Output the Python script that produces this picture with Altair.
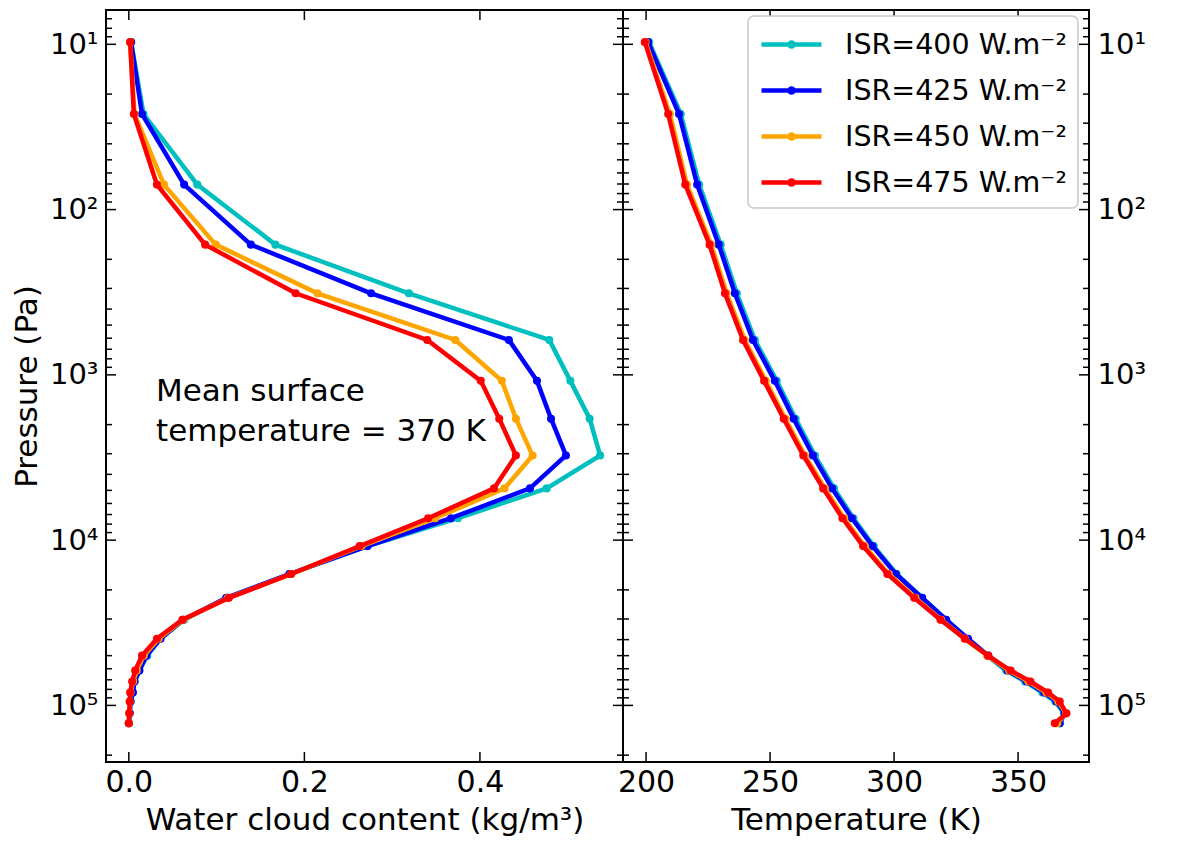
import altair as alt
import pandas as pd

# pressure levels (Pa), shared by every run
pressure = [9.7, 26.4, 70.6, 163, 321, 615, 1087, 1841, 3076, 4864, 7370, 10870,
            16030, 22350, 30330, 39500, 50000, 61500, 71700, 83600, 94600, 111700, 128200]

series = ["ISR=400 W.m⁻²", "ISR=425 W.m⁻²", "ISR=450 W.m⁻²", "ISR=475 W.m⁻²"]
colors = ["#00BFBF", "#0000FF", "#FFA500", "#FF0000"]

# water cloud content (kg/m3)
cloud_400 = [0.0026, 0.0167, 0.078, 0.167, 0.319, 0.479, 0.503, 0.525, 0.537, 0.476, 0.375, 0.272,
             0.183, 0.112, 0.063, 0.036, 0.021, 0.012, 0.0065, 0.0046, 0.002, 0.001, 0.0]
cloud_425 = [0.0026, 0.015, 0.063, 0.139, 0.276, 0.433, 0.465, 0.481, 0.498, 0.457, 0.367, 0.272,
             0.183, 0.111, 0.062, 0.036, 0.020, 0.012, 0.0065, 0.0046, 0.002, 0.001, 0.0]
cloud_450 = [0.0015, 0.0065, 0.040, 0.099, 0.215, 0.372, 0.425, 0.441, 0.460, 0.428, 0.349, 0.265,
             0.185, 0.113, 0.062, 0.034, 0.017, 0.009, 0.005, 0.002, 0.001, 0.0005, 0.0]
cloud_475 = [0.0015, 0.0057, 0.032, 0.087, 0.190, 0.340, 0.401, 0.422, 0.441, 0.416, 0.341, 0.263,
             0.185, 0.114, 0.061, 0.032, 0.015, 0.0072, 0.0038, 0.0015, 0.001, 0.0005, 0.0]

# temperature (K)
temp_400 = [201.2, 214.0, 221.4, 230.1, 236.6, 243.9, 252.7, 260.3, 268.1, 275.8, 283.6, 291.8,
            301.0, 311.4, 321.0, 329.6, 337.6, 345.2, 352.8, 359.8, 365.0, 368.5, 366.8]
temp_425 = [200.8, 213.3, 220.6, 229.3, 235.8, 243.1, 251.9, 259.5, 267.3, 275.0, 283.0, 291.3,
            300.7, 311.3, 321.0, 329.8, 338.0, 345.8, 353.5, 360.5, 365.5, 368.8, 366.8]
temp_450 = [199.8, 209.6, 216.5, 226.3, 232.5, 239.8, 248.3, 256.2, 264.1, 272.1, 279.9, 288.2,
            297.9, 308.6, 319.0, 328.6, 337.6, 346.4, 354.2, 361.4, 366.2, 369.3, 365.8]
temp_475 = [199.5, 208.9, 215.8, 225.6, 231.8, 239.1, 247.6, 255.5, 263.4, 271.4, 279.2, 287.5,
            297.3, 308.1, 318.7, 328.5, 337.9, 347.0, 355.0, 362.1, 366.8, 369.5, 364.8]

clouds = [cloud_400, cloud_425, cloud_450, cloud_475]
temps = [temp_400, temp_425, temp_450, temp_475]

# axis tick positions
y_major = [10, 100, 1000, 10000, 100000]
y_minor = [k * 10 ** n for n in range(0, 6) for k in range(2, 10) if 6.2 <= k * 10 ** n <= 2.2e5]
x_major_cloud = [0.0, 0.2, 0.4]
x_major_temp = [200, 250, 300, 350]

FONT = "DejaVu Sans"
FS_LABEL = 30
FS_TITLE = 31
H = 752
W_LEFT = 517
W_RIGHT = 466
MAJ, MIN = 10, 6

rows = []
for name, cl, tp in zip(series, clouds, temps):
    for i, (p, c, t) in enumerate(zip(pressure, cl, tp)):
        rows.append({"series": name, "level": i, "pressure": p, "cloud": c, "temp": t})
df = pd.DataFrame(rows)

# legend sample: a line with a dot in its middle
sym_path = "M-1,0H3M1.14,0A0.14,0.14,0,1,1,0.86,0A0.14,0.14,0,1,1,1.14,0Z"
color_enc = alt.Color(
    "series:N",
    scale=alt.Scale(domain=series, range=colors),
    legend=alt.Legend(
        title=None, orient="none", legendX=642, legendY=6,
        labelFontSize=28.5, labelFont=FONT, labelColor="black", labelLimit=400,
        symbolType=sym_path, symbolSize=900, symbolStrokeWidth=4.5,
        labelOffset=51, rowPadding=14, padding=11,
        fillColor="white", strokeColor="#c8c8c8", cornerRadius=6,
    ),
)

yscale = alt.Scale(type="log", domain=[6.2, 2.2e5], reverse=True, nice=False)
label_expr = ("datum.value == 10 ? '10¹' : datum.value == 100 ? '10²' : "
              "datum.value == 1000 ? '10³' : datum.value == 10000 ? '10⁴' : '10⁵'")


def y_enc(orient, title):
    axis = alt.Axis(
        orient=orient, values=y_major, labelExpr=label_expr, ticks=False, domain=False,
        grid=False, labelFontSize=29, labelFont=FONT, labelColor="black", labelPadding=8,
        title=title, titleFontSize=FS_TITLE, titleFont=FONT, titleFontWeight="normal",
        titleColor="black", titlePadding=6,
    )
    return alt.Y("pressure:Q", scale=yscale, axis=axis)


def x_enc(field, domain, values, fmt, title):
    axis = alt.Axis(
        values=values, format=fmt, ticks=False, domain=False, grid=False,
        labelFontSize=FS_LABEL, labelFont=FONT, labelColor="black", labelPadding=5,
        title=title, titleFontSize=FS_TITLE, titleFont=FONT, titleFontWeight="normal",
        titleColor="black", titlePadding=8,
    )
    return alt.X(f"{field}:Q", scale=alt.Scale(domain=domain, nice=False, zero=False), axis=axis)


def panel(field, domain, xvals, fmt, xtitle, yorient, ytitle, width, extra=None):
    x = x_enc(field, domain, xvals, fmt, xtitle)
    y = y_enc(yorient, ytitle)
    layers = []
    for name in series:
        layers.append(
            alt.Chart(df).transform_filter(alt.datum.series == name)
            .mark_line(strokeWidth=4.5, point=alt.OverlayMarkDef(filled=True, size=65, opacity=1))
            .encode(x=x, y=y, color=color_enc, order="level:Q")
        )
    # inward ticks on all four sides
    ymaj = pd.DataFrame({"pressure": y_major})
    ymin = pd.DataFrame({"pressure": y_minor})
    for d, ln in ((ymaj, MAJ), (ymin, MIN)):
        layers.append(alt.Chart(d).mark_rule(color="black", strokeWidth=1.5)
                      .encode(y=y, x=alt.value(0), x2=alt.value(ln)))
        layers.append(alt.Chart(d).mark_rule(color="black", strokeWidth=1.5)
                      .encode(y=y, x=alt.value(width - ln), x2=alt.value(width)))
    xmaj = pd.DataFrame({field: xvals})
    layers.append(alt.Chart(xmaj).mark_rule(color="black", strokeWidth=1.5)
                  .encode(x=x, y=alt.value(0), y2=alt.value(MAJ)))
    layers.append(alt.Chart(xmaj).mark_rule(color="black", strokeWidth=1.5)
                  .encode(x=x, y=alt.value(H - MAJ), y2=alt.value(H)))
    if extra is not None:
        layers.append(extra(x, y))
    return alt.layer(*layers).properties(width=width, height=H)


note_df = pd.DataFrame({"cloud": [0.031], "pressure": [1440],
                        "text": [["Mean surface", "temperature = 370 K"]]})


def note(x, y):
    return (
        alt.Chart(note_df)
        .mark_text(align="left", baseline="alphabetic", fontSize=31, font=FONT,
                   color="black", lineHeight=40)
        .encode(x=x, y=y, text="text")
    )


left = panel("cloud", [-0.026, 0.563], x_major_cloud, ".1f",
             "Water cloud content (kg/m³)", "left", "Pressure (Pa)", W_LEFT, extra=note)
right = panel("temp", [190.7, 378.6], x_major_temp, "d",
              "Temperature (K)", "right", None, W_RIGHT)

chart = (
    alt.hconcat(left, right, spacing=0, bounds="flush")
    .resolve_scale(x="independent")
    .configure(font=FONT, background="white")
    .configure_view(stroke="black", strokeWidth=2)
    .configure_legend(strokeWidth=1.5)
    .properties(padding={"left": 2, "top": 0, "right": 5, "bottom": 0})
)

chart.save("out.html", embed_options={"renderer": "svg", "actions": False})
